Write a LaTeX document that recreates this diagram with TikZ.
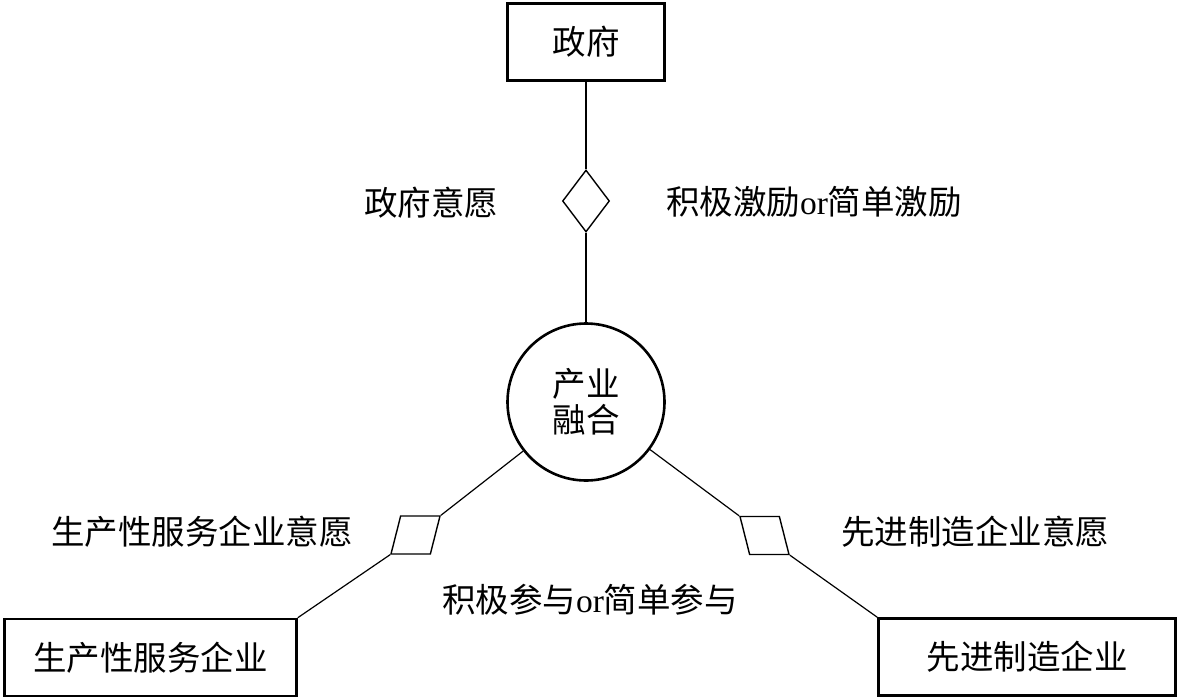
\documentclass[tikz,border=0pt]{standalone}
\usepackage{fontspec}
\setmainfont{Liberation Serif}
\newfontfamily\cjk{Noto Sans CJK SC}
\usetikzlibrary{shapes.geometric}
\begin{document}
\begin{tikzpicture}[x=1pt, y=-1pt, font=\cjk\fontsize{33.5}{36}\selectfont,
  box_style/.style={rectangle,draw=black,line width=2.6pt,inner sep=0pt},
  hub_style/.style={circle,draw=black,line width=2.6pt,minimum size=157pt,inner sep=0pt,align=center},
  gate_style/.style={diamond,draw=black,line width=1.4pt,minimum width=47pt,minimum height=62pt,inner sep=0pt},
  slant_style/.style={trapezium,draw=black,line width=1.4pt,trapezium stretches=true,minimum width=49pt,minimum height=38pt,inner sep=1pt},
  edge_style/.style={draw=black,line width=1.2pt},
  label_style/.style={inner sep=0pt}]
      \useasboundingbox (0,0) rectangle (1181,699);
      \draw
        (586,42) node[box_style,minimum width=157pt,minimum height=77pt] (gov){政府}
        (586,402) node[hub_style] (hub){产业\\融合}
        (586,201) node[gate_style] (g1){}
        (415.5,535) node[slant_style,trapezium left angle=72,trapezium right angle=108] (g2){}
        (764.5,535.5) node[slant_style,trapezium left angle=108,trapezium right angle=72] (g3){}
        (150.5,657.5) node[box_style,minimum width=292pt,minimum height=77pt] (svc){生产性服务企业}
        (1027,657) node[box_style,minimum width=297pt,minimum height=77pt] (mfg){先进制造企业};
      \node[label_style] (w1) at (431,203) {政府意愿};
      \node[label_style] (w2) at (814,202) {积极激励{\rmfamily or}简单激励};
      \node[label_style] (w3) at (202,532) {生产性服务企业意愿};
      \node[label_style] (w4) at (975,532) {先进制造企业意愿};
      \node[label_style] (w5) at (590,600) {积极参与{\rmfamily or}简单参与};
      \begin{scope}[edge_style]
        \draw (gov) -- (g1);
        \draw (g1) -- (hub);
        \draw (hub) -- (g2.top right corner);
        \draw (g2.bottom left corner) -- (svc.north east);
        \draw (hub) -- (g3.top left corner);
        \draw (g3.bottom right corner) -- (mfg.north west);
      \end{scope}
    \end{tikzpicture}
\end{document}
